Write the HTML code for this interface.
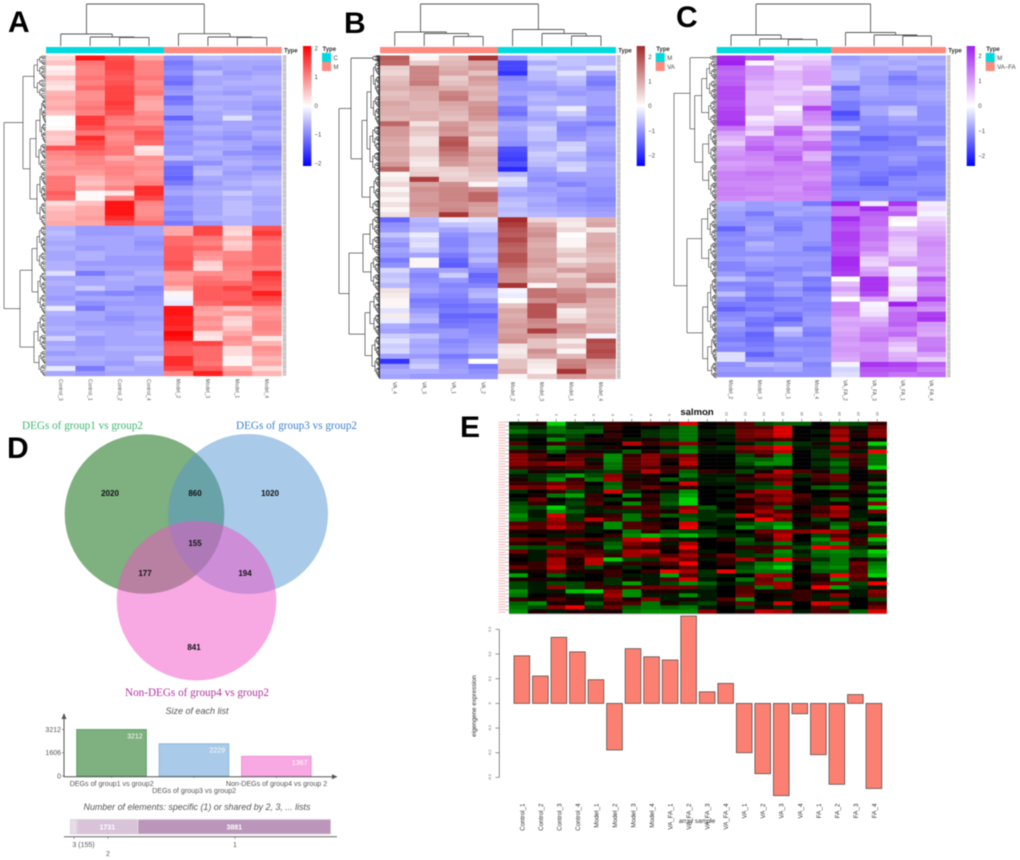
<!DOCTYPE html>
<html lang="en">
<head>
<meta charset="utf-8">
<title>Heatmaps, Venn diagram and eigengene expression figure</title>
<style>
html,body{margin:0;padding:0;background:#fff;}
#figure{display:block;filter:blur(0.45px);font-family:"Liberation Sans",sans-serif;}
</style>
</head>
<body>
<svg id="figure" xmlns="http://www.w3.org/2000/svg" width="1020" height="860" viewBox="0 0 1020 860">
<rect x="0" y="0" width="1020" height="860" fill="#fff"/>
<g font-family="Liberation Sans, sans-serif" font-weight="bold" font-size="30" fill="#000">
<text x="8" y="32">A</text>
<text x="344" y="33">B</text>
<text x="676" y="27">C</text>
<text x="7" y="458">D</text>
<text x="460" y="437">E</text>
</g>
<g>
<circle cx="144.5" cy="514" r="79.8" fill="#006100" fill-opacity="0.5"/>
<circle cx="248" cy="514" r="80" fill="#5395d1" fill-opacity="0.5"/>
<circle cx="196.5" cy="600.7" r="79.8" fill="#f151c5" fill-opacity="0.5"/>
<g font-family="Liberation Serif, serif" font-size="12">
<text x="22" y="429" fill="#3fb573" textLength="121" lengthAdjust="spacingAndGlyphs">DEGs of group1 vs group2</text>
<text x="236" y="429" fill="#3d80cc" textLength="121" lengthAdjust="spacingAndGlyphs">DEGs of group3 vs group2</text>
<text x="125" y="696" fill="#b0329f" textLength="144" lengthAdjust="spacingAndGlyphs">Non-DEGs of group4 vs group2</text>
</g>
<g font-size="8" font-weight="bold" fill="#111" text-anchor="middle">
<text x="110" y="496">2020</text>
<text x="195" y="496">860</text>
<text x="270" y="496">1020</text>
<text x="195" y="546">155</text>
<text x="145" y="576">177</text>
<text x="245" y="576">194</text>
<text x="194" y="650">841</text>
</g>
</g>
</svg>
<script>
/* ---------- Panel A data ---------- */
const heatALabels=["Control_3","Control_1","Control_2","Control_4","Model_2","Model_3","Model_1","Model_4"];
const heatATypes=[0,0,0,0,1,1,1,1];
const heatARows=[
[.3,1.9,1.4,.7,-1.0,-.6,-.7,-.7],[.5,1.1,1.5,1.0,-1.2,-.8,-.8,-.8],[.1,1.0,1.5,1.0,-1.1,-.9,-.8,-.9],[.2,1.0,1.4,1.0,-1.0,-.6,-.9,-.8],
[.5,1.1,1.3,1.1,-1.2,-.8,-.8,-.7],[.3,1.0,1.4,.9,-1.3,-.8,-.7,-.7],[.2,1.2,1.5,1.0,-1.0,-.7,-.8,-.8],[.6,.9,1.5,1.1,-.9,-.8,-.9,-.7],
[.7,.9,1.5,.8,-1.3,-.7,-.7,-.8],[.6,1.0,1.6,.7,-1.2,-.8,-.8,-.9],[.7,1.1,1.5,.7,-.9,-.7,-.8,-1.0],[.5,1.0,1.4,.9,-.9,-.8,-.7,-.8],
[.0,1.6,1.1,1.0,-1.4,-.8,-.3,-.9],[.0,1.6,1.0,.9,-1.0,-.9,-.8,-.8],[.05,1.4,1.2,1.2,-.9,-.7,-.8,-.9],[.5,1.1,1.0,1.4,-1.0,-.8,-.9,-.7],
[.4,1.7,.9,1.3,-.9,-.9,-1.0,-.8],[.5,1.5,1.0,1.2,-1.0,-.7,-.8,-.9],[1.4,1.4,1.1,.2,-.9,-.8,-.8,-1.1],[1.0,1.2,1.1,.3,-.9,-.7,-1.0,-1.0],
[.9,1.0,.7,.9,-.6,-.8,-.8,-.9],[.8,1.0,.9,.8,-1.1,-1.0,-.7,-.8],[.9,.9,1.0,.9,-1.3,-.7,-.8,-1.0],[.8,.8,1.0,.8,-1.3,-.6,-.9,-.8],
[1.1,.6,.9,.9,-1.4,-.8,-.8,-.7],[1.1,.5,.8,1.0,-1.2,-.9,-.7,-.6],[1.1,.7,1.0,1.7,-.9,-.8,-.8,-.7],[1.3,.05,.2,1.7,-.8,-.7,-.5,-.7],
[1.2,.05,1.0,1.5,-1.0,-.8,-.7,-.8],[.3,.5,1.9,1.0,-1.0,-.8,-.6,-.8],[.5,.7,1.9,.9,-.9,-.8,-.6,-.7],[.6,.7,1.9,.9,-1.1,-.8,-.6,-.8],
[.6,.8,1.7,1.0,-1.0,-.7,-.7,-.8],[.7,.7,1.4,1.2,-1.2,-.9,-.7,-.8],
[-.7,-.9,-.9,-.8,.7,1.5,.4,1.4],[-.6,-.9,-.9,-.8,.7,1.5,.3,1.6],[-.7,-.8,-.8,-.9,1.2,1.1,.6,1.3],[-.8,-.8,-.8,-1.0,1.2,1.0,.4,1.1],
[-.7,-.9,-.8,-.9,1.3,1.2,.5,1.2],[-.8,-.7,-.8,-.8,1.3,.9,1.0,1.2],[-.8,-.7,-.9,-.9,1.3,.8,1.0,1.2],[-.7,-.9,-.9,-.9,1.4,.4,1.1,1.2],
[-.7,-.8,-.8,-.8,1.3,.3,1.0,1.0],[-.3,-1.2,-.9,-.7,.8,.9,.9,1.7],[-.8,-.8,-.7,-.8,.8,1.1,.9,1.5],[-.7,-.8,-.8,-.8,.9,1.2,1.2,1.4],
[-.8,-.5,-.8,-1.1,.6,1.3,1.5,1.3],[-.8,-1.0,-1.1,-1.0,.1,1.3,1.3,1.8],[-.9,-.8,-.8,-.9,-.1,1.3,1.3,1.5],[-.8,-1.0,-.9,-.9,-.2,1.2,1.4,1.3],
[-.2,-1.2,-.8,-.8,1.9,.8,.5,.9],[-.7,-.8,-.9,-.8,1.9,.7,.8,.8],[-.8,-.8,-1.0,-.9,1.8,.9,.4,.9],[-.8,-.9,-.9,-.8,1.8,.8,.3,1.0],
[-.7,-.8,-.8,-.8,1.7,.9,.5,1.0],[-.8,-.7,-.8,-.7,2.0,.3,.7,.9],[-.4,-.9,-.8,-.8,1.9,.2,.9,.2],[-.8,-.9,-.8,-.8,1.4,1.5,.8,.6],
[-.7,-.8,-.7,-.7,1.3,1.2,.3,.9],[-.9,-.8,-.8,-.8,1.3,1.2,.3,.8],[-.7,-.7,-.8,-.5,1.7,1.2,.1,.6],[-.8,-.8,-.9,-.7,1.7,1.1,.1,.7],
[-.2,-1.2,-.7,-.8,1.5,1.3,.7,.3],[-.8,-.9,-.8,-.8,1.0,1.8,.9,.6]];
const colTreeA=[42,[12,0,[9,1,[8.5,2,3]]],[12.3,4,[9,5,[8.5,6,7]]]];
const rowTreeA=[42,
 [23,[12,24,20],[16,[10,[6,24,20],[7,16,12]],[9,[6,14,17],[6,12,12]]]],
 [26,[14,[9,26,20],[8,22,20]],[12,[8,20,16],[7,14,12]]]];
const scaleTicksA=[2,1,0,-1,-2];

/* ---------- Panel B data ---------- */
const heatBLabels=["VA_4","VA_3","VA_1","VA_2","Model_2","Model_3","Model_1","Model_4"];
const heatBTypes=[1,1,1,1,0,0,0,0];
const heatBRows=[
[1.6,.1,.6,2.0,-1.0,-.4,-.6,-.7],[1.5,.5,.7,.9,-1.8,-.8,-.6,-.7],[.5,1.2,.8,1.0,-1.8,-.5,-.7,-.3],[.4,1.2,.9,.6,-2.0,-.7,-.3,-.9],
[.6,1.2,.5,1.0,-1.2,-.7,-.6,-1.2],[.7,1.3,.6,.9,-1.0,-.9,-.7,-1.3],[.8,.9,.8,.7,-1.0,-1.0,-.9,-1.1],[.6,.8,1.2,.8,-.9,-.8,-1.0,-.9],
[.7,.8,1.3,.7,-1.1,-.7,-.8,-.9],[.9,.7,.9,1.0,-1.0,-.8,-.8,-.9],[.8,.7,.8,1.1,-1.3,-.6,-.2,-1.1],[.8,.8,.7,1.1,-1.4,-.8,-.5,-1.1],
[.7,.8,.6,1.0,-1.1,-.9,-.8,-1.0],[1.5,.3,1.0,.7,-.8,-.7,-1.1,-1.3],[1.0,.6,1.1,.6,-.9,-.5,-1.2,-1.0],[1.0,.5,1.0,.8,-1.0,-.6,-1.1,-.9],
[.9,.3,1.6,.4,-1.0,-.6,-1.0,-.8],[.8,.3,1.7,.5,-1.1,-.8,-.5,-.9],[.9,.5,1.5,.8,-1.7,-.7,-.4,-1.0],[.9,.5,1.3,.9,-1.8,-.5,-.7,-1.1],
[.8,.3,1.1,.7,-1.9,-.6,-.8,-1.0],[1.0,.2,1.0,.8,-1.7,-.7,-.5,-.8],[1.5,.4,.5,.7,-2.1,-.9,-.4,-.9],[.1,.5,.4,.6,-.7,-1.0,-.9,-.9],
[.2,1.9,.5,.5,-.3,-1.1,-1.0,-1.0],[.4,.9,1.1,.1,-.4,-.9,-1.2,-1.0],[.1,1.1,1.2,1.1,-.8,-1.0,-.9,-1.1],[.3,1.0,1.2,1.5,-.9,-.9,-1.0,-1.1],
[.1,1.0,1.2,1.5,-.7,-.8,-1.1,-1.2],[.3,1.1,1.1,1.0,-.6,-.9,-1.0,-1.1],[.1,1.0,1.2,.9,-.7,-.8,-.9,-1.0],[.3,.9,2.0,1.0,-.6,-.7,-.8,-.9],
[-1.5,-.7,-.2,-.3,2.2,.4,.3,.8],[-1.1,-.8,-.6,-.5,1.9,.8,.2,.9],[-1.0,-.7,-.9,-.6,1.7,1.0,.4,.2],[-.6,-.2,-1.1,-.9,1.6,1.1,.0,.8],
[-.9,-.4,-1.2,-.8,1.8,.9,.1,.8],[-1.1,-.3,-1.2,-.8,1.6,.8,.1,.9],[-.9,-.5,-1.1,-.7,1.5,.9,.4,.8],[-1.0,-.9,-1.3,-.9,1.7,.9,.6,.7],
[-1.3,.1,-1.5,-.7,1.7,1.0,.3,.6],[-1.1,.1,-1.6,-1.0,1.5,.9,.6,.9],[-.4,-1.0,-.9,-1.2,1.2,.7,1.0,.9],[-.6,-1.2,-.5,-1.5,1.1,.8,.5,1.1],
[-.5,-1.1,-1.0,-1.4,1.1,.9,.8,1.2],[-.7,-1.0,-1.2,-1.2,2.0,.1,.8,.3],[.3,-.9,-1.1,-.8,-.1,1.4,1.1,1.0],[.2,-1.1,-1.2,-.7,-.2,1.4,1.3,1.0],
[.1,-1.3,-1.3,-1.0,.0,1.1,1.3,.8],[.1,-1.2,-1.4,-1.3,.6,1.7,.8,.8],[-.3,-1.0,-1.3,-1.2,.9,1.7,.2,.7],[.2,-.8,-1.5,-1.5,.8,1.7,.3,.8],
[-.2,-.7,-1.4,-1.3,.9,1.2,.5,.7],[-.8,-1.1,-1.3,-1.2,1.0,1.1,1.1,.8],[-.9,-1.0,-1.0,-1.2,.9,1.9,1.0,.9],[-.5,-.6,-1.0,-1.1,1.0,1.0,.8,-.1],
[-.3,-.8,-1.2,-1.0,1.1,.6,.2,1.8],[-.5,-.9,-1.1,-.9,.3,.6,.5,1.7],[-.4,-.8,-1.0,-.8,.2,1.1,.1,1.8],[-.9,-1.0,-1.3,-1.1,.3,.9,.7,1.7],
[-2.0,-.7,-1.1,.0,.6,.3,1.2,1.0],[-1.0,-.5,-1.0,-1.3,.6,.2,1.3,.9],[-.8,-.8,-.9,-1.1,.8,.1,2.0,.7],[-.9,-1.0,-1.0,-1.0,.1,.5,1.0,.8]];
const colTreeB=[42,[14,0,[12.5,1,[9.5,2,3]]],[16.5,4,[12.5,5,[10,6,7]]]];
const rowTreeB=[41,
 [29,[7,3,4],[18,[13,[9,34,30],[10,26,24]],[10,[6,12,12],[7,8,8]]]],
 [31,[17,[10,20,20],[9,18,18]],[15,[10,[6,11,11],[6,11,11]],[8,[5,10,11],[5,10,11]]]]];
const scaleTicksB=[2,1,0,-1,-2];

/* ---------- Panel C data ---------- */
const heatCLabels=["Model_2","Model_3","Model_1","Model_4","VA_FA_2","VA_FA_3","VA_FA_1","VA_FA_4"];
const heatCTypes=[0,0,0,0,1,1,1,1];
const heatCRows=[
[2.0,1.6,.3,.4,-.9,-.8,-.7,-.8],[2.1,.1,.6,.6,-.8,-.7,-.8,-.7],[1.5,1.0,.4,.8,-.7,-.8,-.7,-.9],[1.4,1.0,.7,.9,-.6,-.8,-1.0,-.8],
[1.5,.9,.7,.9,-.6,-.9,-1.2,-.9],[1.5,.7,.6,.9,-.8,-.9,-1.1,-1.0],[1.7,.8,.6,.3,-1.3,-.8,-.9,-.9],[1.7,.6,.5,.7,-1.0,-.8,-.9,-.8],
[1.7,.6,.7,.8,-1.0,-.9,-.9,-.8],[1.6,.6,.6,.8,-1.2,-1.0,-1.0,-.9],[1.7,.7,.1,1.7,-1.2,-.8,-.6,-1.0],[1.8,.7,.4,1.2,-1.6,-.8,-.5,-1.0],
[1.8,.2,.5,1.1,-1.4,-1.0,-.8,-1.0],[1.9,.4,.6,1.0,-1.0,-1.0,-.9,-.9],[1.3,.7,1.4,.5,-.6,-1.1,-1.1,-1.1],[.9,.4,1.5,1.0,-1.2,-1.1,-1.0,-1.1],
[.7,1.2,1.1,.8,-1.1,-1.4,-1.2,-.9],[.5,1.3,1.0,1.3,-1.0,-1.2,-1.2,-.7],[.9,1.5,1.2,1.4,-1.2,-1.2,-1.1,-1.1],[1.0,1.2,1.3,.8,-1.0,-1.0,-1.0,-1.0],
[1.1,1.1,1.5,.7,-1.3,-1.1,-.9,-1.1],[.9,1.0,1.2,1.1,-1.2,-1.1,-1.0,-1.2],[1.0,1.1,1.1,1.2,-1.1,-1.1,-1.2,-1.2],[1.2,1.3,1.2,1.1,-1.0,-1.2,-1.3,-1.1],
[1.2,1.2,1.1,1.0,-1.1,-1.3,-1.1,-1.0],[1.1,1.1,1.1,1.2,-1.2,-1.4,-1.0,-1.0],[1.2,1.1,1.0,1.3,-1.1,-1.1,-1.1,-1.1],[1.2,1.2,1.1,1.2,-1.0,-1.0,-1.0,-1.2],
[1.1,1.0,1.1,1.1,-1.1,-1.0,-1.1,-1.0],
[-.7,-.9,-.8,-1.2,2.2,.2,1.9,.2],[-.8,-.9,-.9,-.8,1.3,2.0,1.2,.3],[-.9,-1.2,-.8,-.9,1.3,1.5,1.5,-.1],[-.9,-1.0,-1.0,-1.0,2.0,1.4,.1,.4],
[-1.0,-.9,-1.1,-.9,1.7,1.4,.0,.6],[-1.4,-.8,-1.2,-.9,1.6,1.2,.5,.7],[-1.1,-.9,-1.0,-.9,1.8,1.3,.8,.8],[-1.0,-1.0,-.9,-.9,1.8,1.3,.6,1.0],
[-1.1,-.7,-.9,-1.0,1.7,1.1,.5,1.1],[-1.0,-.8,-.9,-1.2,1.6,1.2,.4,1.0],[-1.0,-1.0,-1.0,-1.0,1.7,.9,.5,1.0],[-.9,-.8,-.9,-.9,2.0,.5,.8,.9],
[-1.1,-.9,-.9,-1.0,2.0,.4,1.0,.9],[-1.1,-1.0,-1.1,-1.0,1.9,.8,.1,1.1],[-.9,-1.2,-1.0,-.8,1.8,1.0,-.1,.9],[-.6,-.9,-1.0,-1.2,.0,1.9,.4,1.6],
[-1.1,-1.1,-.8,-1.1,.6,1.9,.5,1.2],[-1.0,-1.2,-1.0,-1.3,.9,1.9,.1,1.1],[-.6,-1.1,-.9,-1.1,.6,1.7,.2,1.2],[-1.0,-1.3,-1.2,-1.0,.0,.9,.5,1.8],
[-1.2,-1.1,-1.1,-1.1,1.2,.1,2.1,1.2],[-1.4,-1.2,-1.0,-1.1,1.2,.2,1.2,1.0],[-1.1,-1.0,-1.2,-1.0,1.1,.3,1.4,1.8],[-1.0,-1.2,-1.4,-.9,.8,.7,1.4,1.9],
[-.8,-1.3,-1.1,-.9,.9,.9,1.5,1.0],[-1.0,-1.1,-.5,-1.1,.8,1.1,1.2,.9],[-1.1,-1.4,-.7,-1.2,.9,1.2,1.4,.8],[-1.2,-1.3,-1.0,-1.0,1.0,1.3,.9,1.2],
[-1.0,-1.2,-1.1,-1.1,.9,1.0,.6,1.2],[-1.1,-1.1,-.9,-1.0,1.0,1.0,.4,1.3],[-.3,-1.4,-1.0,-1.0,.9,1.1,.7,.9],[-.3,-1.1,-1.1,-.9,.8,1.1,.8,.5],
[-1.0,-.6,-.7,-1.1,-.1,1.9,1.8,1.5],[-.9,-.9,-.8,-1.0,-.4,1.6,1.6,1.2],[-1.0,-1.0,-1.0,-1.0,-.3,1.5,1.3,1.4]];
const colTreeC=[42,[11,0,[7,1,[6.5,2,3]]],[13.5,4,[11,5,[10,6,7]]]];
const rowTreeC=[42.7,
 [26.7,[6,2,3],[22,[15,[10,20,20],[8,14,12]],[14,[8,20,18],[8,18,18]]]],
 [29.7,[15,[9,20,22],[8,18,18]],[14,[9,[6,16,16],[6,12,12]],[9,[5,14,14],[5,10,6]]]]];
const scaleTicksC=[2,1,0,-1,-2];

/* ---------- Panel D list sizes ---------- */
const listNames=["DEGs of group1 vs group2","DEGs of group3 vs group2","Non-DEGs of group4 vs group 2"];
const listSizes=[3212,2229,1367];
const listAxisTicks=[3212,1606,0];
const stackLabels=["","1731","3881"];
const stackShares=[2.7,23.2,74.1];
const stackAxisLabels=["3 (155)","2","1"];

/* ---------- Panel E data ---------- */
const moduleRows=[
[-1,1,-9,-2,-1,2,1,3,2,8,0,1,3,-3,-4,-4,0,-4,-3,2],[-3,-1,-5,-2,-3,2,0,0,-2,-5,0,-1,3,3,8,0,0,4,-1,4],
[-5,-3,-5,-4,-4,1,0,-2,-3,-5,-1,-2,4,5,8,0,-1,6,1,5],[-2,-1,-2,-3,0,2,0,-2,-3,-5,-1,-1,4,5,8,0,0,5,1,5],
[-1,0,-6,-2,1,1,-1,1,-2,-5,0,-1,3,2,3,0,-1,7,0,1],[3,0,2,3,0,0,7,2,4,5,1,0,-1,-3,-5,-2,1,-2,2,-9],
[-3,-1,-6,-2,-1,1,0,0,-1,-5,-1,-2,5,6,9,-1,-1,5,1,-3],[2,1,-4,1,1,-1,-4,1,-3,-6,-1,-1,3,4,7,0,-2,3,-1,9],
[5,3,0,3,3,-6,2,5,3,4,0,0,-3,2,-5,0,-2,5,3,-5],[5,2,1,4,-1,-6,3,5,1,6,0,0,-4,-4,-6,0,-1,-3,2,-5],
[5,4,6,5,1,-5,3,5,0,7,0,0,-3,-6,-6,0,-2,-5,2,-5],[3,2,2,3,2,-5,3,3,2,3,0,0,-1,-2,-1,0,-1,-3,1,-9],
[-3,1,-1,-1,-2,-3,2,7,2,-4,2,1,-3,1,7,3,1,-4,0,3],[-1,-2,-4,-7,-3,5,-1,1,0,-5,-1,-1,1,5,5,-2,3,4,0,-1],
[1,-2,-6,2,-5,6,1,1,-4,-2,-1,-2,2,2,4,0,2,4,0,1],[2,2,4,3,0,-4,2,1,0,8,-1,-1,-1,-2,6,-1,1,-2,1,-6],
[5,4,7,4,-1,-5,2,4,2,2,0,0,-2,-3,-4,0,-4,-5,2,-2],[-2,0,2,-3,-1,8,-2,0,-1,-6,0,-1,1,6,6,0,0,1,1,-6],
[0,1,-5,-7,2,0,-6,2,-3,-7,0,0,5,3,5,3,0,2,0,-1],[-1,4,0,-2,2,-2,1,1,-3,-9,0,-1,1,4,6,2,-1,-4,-1,-7],
[-3,2,-1,-3,3,0,-6,2,-4,-9,0,0,1,2,4,1,-1,1,-1,5],[-4,-3,-9,-2,-1,2,3,3,-2,5,-4,0,2,4,-4,0,3,7,0,-9],
[-4,-1,-6,-4,-1,-2,-2,2,1,7,-2,-1,1,6,3,1,2,5,-1,5],[-6,-1,8,-2,1,2,-5,3,-4,-3,-2,-3,8,3,6,-1,4,6,-1,-1],
[-5,-2,6,-2,7,3,-5,-1,0,-4,-2,-1,1,9,4,0,-3,1,-2,0],[3,3,5,3,1,-6,3,2,1,8,0,-1,-3,-5,-6,1,-1,-4,3,-7],
[5,3,7,4,-1,-6,3,3,0,9,-1,0,-6,-4,-8,-1,1,-6,2,-2],[1,1,1,2,-1,0,-5,2,-4,-3,-3,-1,0,4,5,5,7,6,0,-2],
[-1,0,-1,-1,0,2,-6,-8,-6,-8,-4,-2,-1,2,7,0,-3,3,-1,6],[4,3,2,4,3,-2,7,9,2,-1,0,2,-4,1,6,0,-6,6,2,-8],
[2,1,4,1,-1,-4,5,3,-1,6,0,0,-3,-2,-5,-1,-4,-6,2,-4],[-4,-3,-3,2,1,-5,3,2,1,9,0,0,2,2,4,-3,9,7,-2,1],
[4,-1,5,4,3,-2,6,7,0,4,-1,0,-2,2,-6,-1,-5,-6,-4,-9],[1,-1,3,3,4,2,6,4,3,6,1,4,-2,-3,-5,-2,-4,-5,-4,-7],
[0,-1,6,1,7,-9,-3,-2,6,4,-1,2,6,2,9,3,-2,-5,1,-2],[1,2,6,1,7,-2,2,2,3,9,0,2,-2,-5,-6,-1,-4,-5,4,-5],
[4,2,7,2,-3,1,-2,0,1,4,0,0,-3,-6,-9,0,-5,-6,3,-6],[-1,1,4,1,1,2,0,2,9,6,-2,9,-4,-5,-5,1,-4,-4,3,-7],
[-7,0,-4,-1,0,2,-1,-1,-7,3,-2,-1,0,6,5,0,2,9,4,-9],[1,1,1,0,0,-2,1,-1,3,8,-1,0,-5,4,-5,0,1,-6,3,-1],
[-3,-1,-3,-3,2,-2,-7,-1,-3,-6,-4,-1,-2,5,6,-1,3,4,-3,9],[-3,-1,5,-3,2,2,3,4,4,4,-2,0,3,-5,6,0,9,-7,-2,-1],
[-6,-1,-1,-8,-9,5,-6,1,1,-1,-1,0,3,1,-1,2,1,1,-1,5],[-5,0,1,-1,-2,6,-6,-1,-1,-6,-1,0,4,0,1,2,-1,5,-1,4],
[2,1,3,1,-1,4,1,5,-1,1,-1,3,-6,0,-1,2,-1,-2,0,-3],[-4,-6,1,1,-4,2,3,-5,1,-2,-3,1,4,-1,8,0,8,7,0,2],
[-5,-3,5,9,-2,4,-4,-5,-4,-5,-1,0,-3,1,-2,0,3,-3,0,4],[-6,1,-1,1,1,1,-5,-6,-6,-6,5,0,1,7,6,-1,3,2,-4,8]];
const sampleNames=["Control_1","Control_2","Control_3","Control_4","Model_1","Model_2","Model_3","Model_4","VA_FA_1","VA_FA_2","VA_FA_3","VA_FA_4","VA_1","VA_2","VA_3","VA_4","FA_1","FA_2","FA_3","FA_4"];
const eigengeneValues=[.193,.111,.268,.209,.096,-.189,.222,.189,.176,.354,.047,.081,-.2,-.285,-.374,-.042,-.208,-.328,.036,-.345];
const eigengeneTicks=[.3,.2,.1,0,-.1,-.2,-.3];

/* ---------- Drawing helpers ---------- */
const NS='http://www.w3.org/2000/svg';
const root=document.getElementById('figure');
function add(tag,name,attrs,parent){
  const el=document.createElementNS(NS,tag);
  
  
  for(const k in attrs){el.setAttribute(k,attrs[k]);}
  (parent||root).appendChild(el);
  return el;
}
function label(name,str,attrs,parent){
  const el=add('text',name,attrs,parent);
  el.textContent=str;
  return el;
}
function line(name,x1,y1,x2,y2,stroke,w,parent){
  return add('line',name,{x1:x1,y1:y1,x2:x2,y2:y2,stroke:stroke,'stroke-width':w},parent);
}
function mixColor(a,b,t){
  return 'rgb('+a.map((c,i)=>Math.round(c+(b[i]-c)*t)).join(',')+')';
}
const WHITE=[255,255,255],BLUE=[0,0,255];
function heatColor(v,high,limit,negLimit){
  return v>=0?mixColor(WHITE,high,Math.min(1,v/limit)):mixColor(WHITE,BLUE,Math.min(1,-v/negLimit));
}
const TYPE_COLORS=['#00dade','#ff8a80'];

function drawColTree(node,p,g,bandX,baseY){
  if(typeof node==='number'){return {x:bandX(node),y:baseY};}
  const y=baseY-node[0];
  const a=drawColTree(node[1],p,g,bandX,baseY);
  const b=drawColTree(node[2],p,g,bandX,baseY);
  line(p+'-column-branch',a.x,y,b.x,y,'#555',0.9,g);
  line(p+'-column-branch',a.x,y,a.x,a.y,'#555',0.9,g);
  line(p+'-column-branch',b.x,y,b.x,b.y,'#555',0.9,g);
  return {x:(a.x+b.x)/2,y:y};
}
function drawRowTree(node,parentH,state,p,g){
  if(typeof node==='number'){
    if(node<=state.step){
      const y=state.cursor+node/2;
      state.cursor+=node;
      return {y:y,h:0};
    }
    const first=Math.max(state.step*0.6,Math.floor(node*0.42));
    const h=Math.max(0.8,parentH*0.72);
    return drawRowTree([h,first,node-first],h,state,p,g);
  }
  const h=node[0];
  const a=drawRowTree(node[1],h,state,p,g);
  const b=drawRowTree(node[2],h,state,p,g);
  const x=state.left-h;
  line(p+'-row-branch',x,a.y,x,b.y,'#333',state.width,g);
  line(p+'-row-branch',x,a.y,state.left-a.h,a.y,'#333',state.width,g);
  line(p+'-row-branch',x,b.y,state.left-b.h,b.y,'#333',state.width,g);
  return {y:(a.y+b.y)/2,h:h};
}
function drawClusterPanel(c){
  const g=add('g',c.id+'-heatmap-panel',{});
  const cols=c.labels.length,rows=c.rows.length;
  const bw=(c.right-c.left)/cols,bh=(c.bottom-c.top)/rows;
  const bandX=i=>c.left+bw*(i+0.5);
  const cells=add('g',c.id+'-heat-cells',{},g);
  c.rows.forEach((row,r)=>{
    row.forEach((v,k)=>{
      const cell=add('rect',c.id+'-heat-cell',{x:c.left+bw*k,y:c.top+bh*r,width:bw+0.2,height:bh+0.2,fill:heatColor(v,c.high,c.limit,c.negLimit)},cells);
      cell.setAttribute('data-value',v);
    });
  });
  c.types.forEach((t,k)=>{
    add('rect',c.id+'-type-annotation',{x:c.left+bw*k,y:47,width:bw+0.2,height:6.3,fill:TYPE_COLORS[t]},g);
    label(c.id+'-column-label',c.labels[k],{x:0,y:0,transform:'translate('+(bandX(k)-1.8)+','+c.labelY+') rotate(90)','font-size':5,fill:'#555'},g);
  });
  label(c.id+'-type-label','Type',{x:c.right+2.5,y:52.5,'font-size':6,'font-weight':'bold',fill:'#333'},g);
  drawColTree(c.colTree,c.id,add('g',c.id+'-column-dendrogram',{},g),bandX,46);
  const rg=add('g',c.id+'-row-dendrogram',{},g);
  drawRowTree(c.rowTree,c.rowTree[0],{cursor:c.top,left:c.left,step:c.step,width:c.branchWidth},c.id,rg);
  add('line',c.id+'-row-label-strip',{x1:c.right+3,y1:c.top,x2:c.right+3,y2:c.bottom,stroke:'#a8a8a8','stroke-width':3.6,'stroke-dasharray':'1.1 0.7'},g);
  /* colour scale */
  const gid=c.id+'-scale-gradient';
  const defs=add('defs',c.id+'-scale-defs',{},g);
  const grad=add('linearGradient',c.id+'-scale-ramp',{id:gid,x1:0,y1:0,x2:0,y2:1},defs);
  add('stop',c.id+'-scale-stop',{offset:'0','stop-color':'rgb('+c.high.join(',')+')'},grad);
  add('stop',c.id+'-scale-stop',{offset:'0.5','stop-color':'#fff'},grad);
  add('stop',c.id+'-scale-stop',{offset:'1','stop-color':'#00f'},grad);
  add('rect',c.id+'-color-scale',{x:c.barX,y:46,width:8.3,height:120,fill:'url(#'+gid+')'},g);
  const sy=v=>c.scaleZero-v*c.scaleUnit;
  c.ticks.forEach(v=>{
    label(c.id+'-scale-tick',(v<0?'\u2212':'')+Math.abs(v),{x:c.barX+11.5,y:sy(v)+2.2,'font-size':6,fill:'#444'},g);
  });
  /* legend */
  label(c.id+'-legend-title','Type',{x:c.barX+19.5,y:51,'font-size':6,'font-weight':'bold',fill:'#333'},g);
  c.legendKeys.forEach((t,i)=>{
    add('rect',c.id+'-legend-swatch',{x:c.barX+19,y:53+9*i,width:9,height:9,fill:TYPE_COLORS[i]},g);
    label(c.id+'-legend-entry',t,{x:c.barX+30.5,y:60+9*i,'font-size':6,fill:'#444'},g);
  });
}

drawClusterPanel({id:'panel-a',labels:heatALabels,types:heatATypes,rows:heatARows,colTree:colTreeA,rowTree:rowTreeA,ticks:scaleTicksA,
  left:46,right:281.5,top:55.5,bottom:376,labelY:379,high:[255,0,0],limit:2.05,negLimit:2.3,step:2.0,branchWidth:0.6,barX:303,scaleZero:105.7,scaleUnit:28.8,legendKeys:['C','M']});
drawClusterPanel({id:'panel-b',labels:heatBLabels,types:heatBTypes,rows:heatBRows,colTree:colTreeB,rowTree:rowTreeB,ticks:scaleTicksB,
  left:380,right:615.7,top:55.5,bottom:379,labelY:382,high:[165,42,42],limit:2.1,negLimit:2.5,step:0.65,branchWidth:0.65,barX:636.7,scaleZero:106,scaleUnit:24.6,legendKeys:['M','VA']});
drawClusterPanel({id:'panel-c',labels:heatCLabels,types:heatCTypes,rows:heatCRows,colTree:colTreeC,rowTree:rowTreeC,ticks:scaleTicksC,
  left:716.7,right:945.7,top:55.5,bottom:377,labelY:380,high:[160,32,240],limit:2.1,negLimit:2.3,step:1.9,branchWidth:0.6,barX:966.7,scaleZero:106,scaleUnit:25,legendKeys:['M','VA\u2212FA']});

/* ---------- List size bars ---------- */
(function(){
  const g=add('g','list-size-chart',{});
  const sy=v=>776-v*46.5/3212;
  label('list-size-title','Size of each list',{x:197,y:714,'font-size':9,'font-style':'italic','text-anchor':'middle',fill:'#555'},g);
  const fills=['#7fb07f','#a9cae8','#f8a8e2'],edges=['#4f9a5c','#7fb0de','#ee8cd8'];
  const labelY=[786,793,786];
  listSizes.forEach((v,i)=>{
    const x=76.7+82.4*i;
    add('rect','list-size-bar',{x:x,y:sy(v),width:69.7,height:776-sy(v),fill:fills[i],stroke:edges[i],'stroke-width':0.8},g);
    label('list-size-value',String(v),{x:x+66,y:sy(v)+9,'font-size':7,'text-anchor':'end',fill:'#fff'},g);
    label('list-name-label',listNames[i],{x:x+35,y:labelY[i],'font-size':7.1,'text-anchor':'middle',fill:'#555'},g);
    line('list-x-tick',x+35,776,x+35,778,'#777',0.6,g);
  });
  listAxisTicks.forEach(v=>{
    label('list-y-tick-label',String(v),{x:61,y:sy(v)+2.3,'font-size':7,'text-anchor':'end',fill:'#555'},g);
    line('list-y-tick',62,sy(v),64,sy(v),'#555',0.6,g);
  });
  line('list-y-axis',64,777,64,718,'#555',1,g);
  add('path','list-y-axis-arrow',{d:'M61.5 719 L64 713 L66.5 719 Z',fill:'#555'},g);
  line('list-x-axis',64,776.7,333,776.7,'#555',1,g);
  add('path','list-x-axis-arrow',{d:'M332 774.2 L337.5 776.7 L332 779.2 Z',fill:'#555'},g);

  label('shared-elements-title','Number of elements: specific (1) or shared by 2, 3, ... lists',{x:197,y:810,'font-size':8.9,'font-style':'italic','text-anchor':'middle',fill:'#555'},g);
  const segFill=['#e8dbe8','#d9c3d9','#bb96ba'];
  let cursor=70;
  stackShares.forEach((s,i)=>{
    const w=s/100*261;
    add('rect','shared-elements-segment',{x:cursor+0.4,y:819.5,width:w-0.8,height:14.5,fill:segFill[i],stroke:'#d6d0d6','stroke-width':0.7},g);
    if(stackLabels[i]){
      label('shared-elements-value',stackLabels[i],{x:cursor+w/2,y:829.5,'font-size':7,'font-weight':'bold','text-anchor':'middle',fill:'#fff'},g);
    }
    cursor+=w;
  });
  line('shared-elements-axis',64,836.7,337,836.7,'#666',1,g);
  const tickX=[74,108,235],tickY=[847,856,847],textX=[83.5,108,235];
  stackAxisLabels.forEach((t,i)=>{
    line('shared-elements-tick',tickX[i],836.7,tickX[i],839,'#666',0.6,g);
    label('shared-elements-tick-label',t,{x:textX[i],y:tickY[i],'font-size':7,'text-anchor':'middle',fill:'#555'},g);
  });
})();

/* ---------- Panel E ---------- */
(function(){
  const g=add('g','module-heatmap-panel',{});
  const L=509,R=886.7,T=421.7,B=613.3;
  const bw=(R-L)/moduleRows[0].length,bh=(B-T)/moduleRows.length;
  const RED=[255,0,0],GREEN=[0,255,0],BLACK=[0,0,0];
  moduleRows.forEach((row,r)=>{
    row.forEach((v,k)=>{
      const scale=v>=0?9.5:11;
      const cell=add('rect','module-heat-cell',{x:L+bw*k,y:T+bh*r,width:bw+0.2,height:bh+0.2,fill:mixColor(BLACK,v>=0?RED:GREEN,Math.abs(v)/scale)},g);
      cell.setAttribute('data-value',v);
    });
  });
  label('module-title','salmon',{x:697,y:415,'font-size':9.5,'font-weight':'bold','text-anchor':'middle',fill:'#111'},g);
  moduleRows[0].forEach((_,k)=>{
    const cx=L+bw*(k+0.5);
    line('module-column-tick',cx,419,cx,421.7,'#444',0.5,g);
    label('module-column-number',String(k+1),{x:0,y:0,transform:'translate('+(cx+1.2)+',416) rotate(-90)','font-size':3.6,fill:'#555'},g);
  });
  add('line','module-gene-labels',{x1:502,y1:T,x2:502,y2:B,stroke:'#f8c4c4','stroke-width':7,'stroke-dasharray':'1.3 1.3'},g);
  add('line','module-gene-ticks',{x1:507,y1:T,x2:507,y2:B,stroke:'#999','stroke-width':3,'stroke-dasharray':'0.7 3.3'},g);
  line('module-bottom-edge',L,614.1,R,614.1,'#aaa',0.8,g);
})();

(function(){
  const g=add('g','eigengene-bar-chart',{});
  const y=v=>703.4-v*246.7;
  const x=i=>514+18.53*i;
  eigengeneValues.forEach((v,i)=>{
    const top=Math.min(y(v),y(0)),h=Math.abs(y(v)-y(0));
    add('rect','eigengene-bar-'+sampleNames[i].toLowerCase().replace(/_/g,'-'),{x:x(i),y:top,width:15.7,height:h,fill:'#fb8072',stroke:'#444','stroke-width':0.7},g);
    label('eigengene-sample-label',sampleNames[i],{x:0,y:0,transform:'translate('+(x(i)+10.3)+',803.5) rotate(-90)','font-size':6.3,'text-anchor':'end',fill:'#333'},g);
  });
  line('eigengene-y-axis',499.3,y(eigengeneTicks[0]),499.3,y(eigengeneTicks[eigengeneTicks.length-1]),'#555',0.7,g);
  eigengeneTicks.forEach(v=>{
    line('eigengene-y-tick',495.5,y(v),499.3,y(v),'#555',0.6,g);
    label('eigengene-y-tick-label',String(v),{x:0,y:0,transform:'translate(491,'+y(v)+') rotate(-90)','font-size':3.6,'text-anchor':'middle',fill:'#555'},g);
  });
  label('eigengene-y-axis-title','eigengene expression',{x:0,y:0,transform:'translate(476,706) rotate(-90)','font-size':6.3,'text-anchor':'middle',fill:'#333'},g);
  label('eigengene-x-axis-title','array sample',{x:697,y:823,'font-size':6.3,'text-anchor':'middle',fill:'#333'},g);
})();
</script>
</body>
</html>
